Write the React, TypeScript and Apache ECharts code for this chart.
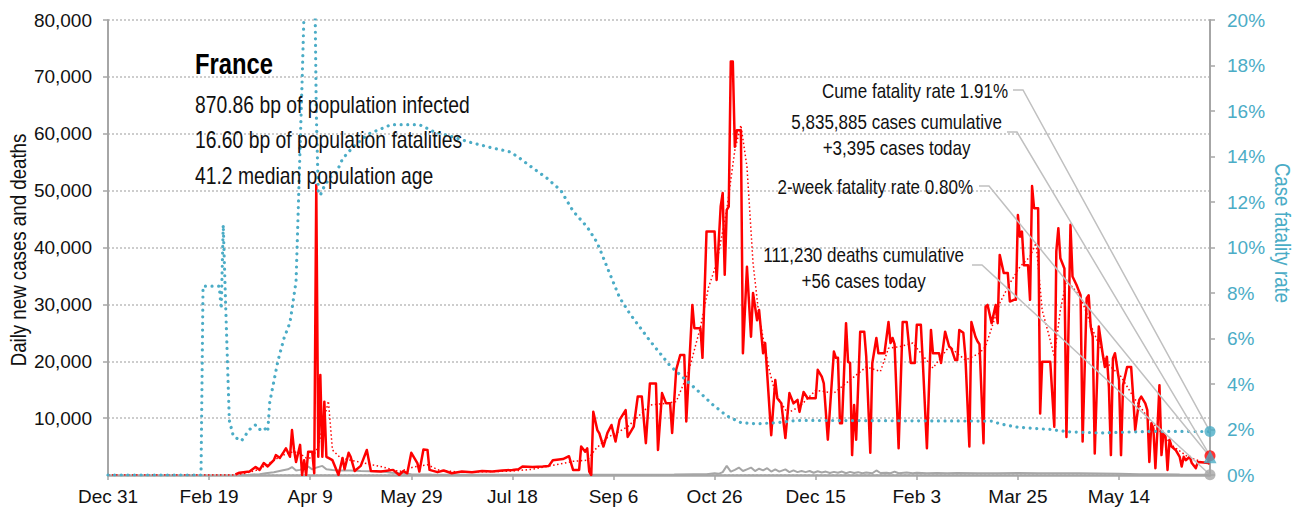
import React, { useEffect, useRef } from "react";
import * as echarts from "echarts";

// x values are days since 2019-12-31 (day 0 = Dec 31, 2019)
const FONT = "'Liberation Sans', Arial, sans-serif";
const BLUE = "#4BACC6";
const RED = "#FF0000";
const GRAY = "#A6A6A6";

const LAST_DAY = 545;
const X_TICK_INTERVAL = 50;
const Y_LEFT_MAX = 80000;
const Y_RIGHT_MAX = 20;

const CASES: [number, number][] = [
  [63, 100], [65, 400], [70, 600], [73, 1400], [75, 900], [77, 2100], [79, 1500], [82, 2600], [83, 3500],
  [85, 3000], [87, 4100], [88, 4700], [90, 3200], [91, 7900], [92, 4400], [93, 2300], [95, 5300], [96, 0],
  [97, 2600], [98, 0], [99, 4100], [101, 4100], [102, 300], [103, 51000], [104, 3200], [105, 17600],
  [106, 3200], [107, 12900], [108, 3200], [109, 3000], [111, 2600], [114, 0], [116, 3000], [117, 1000],
  [119, 3900], [120, 3200], [122, 700], [125, 1600], [128, 4400], [130, 700], [135, 600], [141, 900],
  [144, 0], [146, 700], [148, 300], [150, 3900], [153, 2100], [154, 600], [156, 4500], [158, 4400],
  [159, 900], [163, 500], [166, 800], [170, 300], [175, 600], [180, 500], [185, 700], [190, 600],
  [195, 800], [200, 900], [203, 1000], [205, 1500], [210, 1400], [215, 1500], [218, 1600], [220, 2600],
  [225, 2800], [228, 3300], [230, 900], [233, 900], [234, 5000], [236, 4100], [237, 4700], [238, 600],
  [239, 0], [240, 11100], [242, 7900], [243, 7300], [245, 5000], [247, 7400], [249, 8800], [251, 5900],
  [253, 9700], [256, 11400], [257, 6700], [260, 8500], [262, 13800], [264, 13800], [266, 5600],
  [268, 16100], [271, 16100], [272, 4400], [274, 14400], [276, 12600], [278, 12600], [279, 7400],
  [281, 18500], [283, 21100], [285, 21100], [286, 9400], [289, 29900], [290, 25800], [293, 25800],
  [294, 20600], [296, 42800], [300, 42800], [301, 34300], [303, 47200], [304, 49600], [305, 35200],
  [306, 46600], [307, 47200], [308, 72700], [309, 72700], [310, 57700], [311, 60600], [313, 60600],
  [314, 21400], [316, 36600], [318, 24300], [319, 32000], [321, 27200], [322, 29000], [324, 21400],
  [325, 23200], [328, 7000], [330, 16700], [331, 13500], [333, 12600], [335, 6500], [337, 14400],
  [339, 12600], [341, 13200], [342, 11100], [344, 14600], [346, 13500], [350, 13500], [351, 18500],
  [353, 17300], [354, 16100], [356, 6200], [359, 21700], [360, 20600], [361, 20600], [362, 9100],
  [363, 9100], [365, 26700], [366, 19900], [367, 19700], [368, 3500], [369, 12300], [370, 6200],
  [372, 25200], [374, 25200], [375, 20800], [377, 3900], [378, 19700], [380, 24100], [381, 21400],
  [384, 21400], [386, 26900], [387, 23200], [388, 24100], [389, 23000], [391, 4700], [393, 26900],
  [395, 26900], [397, 19700], [399, 19700], [400, 26400], [402, 26400], [403, 19700], [405, 4700],
  [407, 25500], [408, 21400], [411, 21400], [412, 19700], [414, 25200], [416, 22600], [417, 22300],
  [419, 20200], [420, 20200], [421, 25500], [423, 25000], [424, 21000], [426, 5000], [427, 26900],
  [429, 24300], [430, 23500], [431, 23000], [433, 5600], [434, 29600], [435, 29900], [437, 26700],
  [439, 29900], [440, 26700], [441, 38700], [443, 35500], [445, 35500], [446, 30500], [448, 30800],
  [449, 30800], [450, 45700], [451, 41900], [452, 42800], [453, 36900], [455, 36900], [456, 30800],
  [457, 50800], [458, 46900], [460, 46900], [461, 10800], [462, 19900], [466, 19900], [468, 8500],
  [469, 39300], [470, 43400], [471, 38100], [473, 36300], [474, 6700], [476, 44000], [477, 34900],
  [479, 33400], [480, 32500], [481, 31600], [482, 5900], [484, 31100], [485, 31600], [486, 26100],
  [487, 24300], [488, 3800], [490, 26100], [492, 21100], [493, 19000], [494, 20800], [495, 15500],
  [496, 3500], [497, 20500], [498, 21400], [500, 16700], [501, 3500], [502, 15800], [504, 19000],
  [506, 19000], [507, 13800], [508, 7900], [510, 13200], [511, 13800], [513, 12600], [514, 11400],
  [515, 2300], [516, 9100], [517, 8200], [518, 1200], [519, 8000], [520, 15800], [521, 3500],
  [522, 7400], [523, 6700], [524, 900], [525, 6200], [526, 5000], [528, 4400], [530, 3200], [531, 1500],
  [532, 3200], [533, 2600], [535, 3200], [536, 2100], [538, 1200], [539, 2300], [542, 2200], [544, 2100],
  [545, 3395],
];

const CASES_AVG: [number, number][] = [
  [0, 0], [62, 0], [68, 300], [74, 900], [78, 1700], [82, 2600], [86, 3400], [90, 4000], [94, 4000],
  [98, 3000], [101, 3000], [104, 5000], [107, 10000], [109, 13000], [111, 4400], [115, 3000],
  [120, 2600], [128, 2000], [136, 1400], [144, 600], [151, 1400], [158, 1800], [164, 800], [175, 500],
  [190, 600], [200, 700], [210, 1000], [220, 1700], [230, 2400], [237, 2600], [241, 4500], [247, 6600],
  [252, 7500], [257, 8500], [262, 10200], [268, 12300], [276, 12600], [281, 12900], [287, 18000],
  [293, 26000], [297, 33000], [301, 37200], [306, 46600], [310, 57100], [313, 61500], [316, 54200],
  [319, 37300], [322, 27800], [327, 18500], [330, 14400], [336, 10900], [342, 12000], [350, 14900],
  [359, 14400], [367, 16700], [375, 19000], [382, 18200], [386, 22300], [392, 22600], [398, 23200],
  [408, 18800], [416, 22600], [424, 20200], [431, 21400], [434, 22600], [441, 30200], [446, 33700],
  [451, 36600], [456, 38400], [459, 40800], [462, 29000], [466, 23700], [468, 20800], [471, 29000],
  [474, 34300], [481, 31300], [487, 25500], [494, 19700], [501, 17300], [507, 13800], [514, 10200],
  [521, 7400], [527, 5000], [534, 3200], [541, 2300], [545, 1900],
];

const DEATHS: [number, number][] = [
  [65, 0], [70, 50], [75, 150], [78, 300], [82, 500], [86, 800], [89, 1000], [91, 1400], [93, 800],
  [95, 900], [97, 1200], [99, 1500], [101, 1000], [103, 1300], [106, 1600], [108, 1000], [111, 900],
  [115, 800], [120, 800], [125, 700], [130, 650], [136, 600], [140, 400], [145, 300], [150, 150],
  [160, 80], [180, 30], [220, 30], [260, 60], [280, 100], [290, 150], [296, 150], [300, 300], [302, 200],
  [304, 500], [306, 1600], [308, 600], [310, 900], [312, 1300], [314, 700], [316, 1000], [318, 1300],
  [320, 700], [322, 1100], [324, 800], [326, 1200], [328, 600], [330, 1000], [332, 600], [335, 1000],
  [337, 500], [339, 800], [341, 500], [343, 700], [345, 500], [347, 700], [349, 400], [351, 650],
  [353, 450], [355, 600], [357, 350], [359, 550], [361, 400], [363, 600], [365, 300], [367, 550],
  [369, 350], [371, 500], [373, 300], [375, 450], [378, 300], [380, 800], [382, 350], [385, 400],
  [387, 300], [389, 600], [391, 300], [395, 450], [398, 300], [400, 400], [405, 300], [410, 350],
  [415, 300], [420, 350], [430, 300], [440, 300], [450, 350], [460, 300], [470, 300], [480, 300],
  [490, 250], [500, 200], [510, 150], [520, 120], [530, 80], [540, 60], [545, 56],
];

// case fatality rate, percent (right axis)
const FATALITY_RATE: [number, number][] = [
  [0, 0], [46, 0], [47, 8.3], [55, 8.3], [56, 7.3], [57, 11.0], [58, 8.0], [60, 2.4], [62, 1.7],
  [66, 1.5], [70, 2.0], [73, 2.2], [75, 2.0], [77, 2.1], [79, 1.9], [80, 3.2], [82, 4.1], [84, 5.0],
  [87, 6.0], [90, 6.7], [91, 7.3], [93, 8.5], [94, 11.4], [95, 14.4], [96, 17.3], [97, 20.5], [98, 24],
  [102, 24], [103, 16], [104, 12.4], [105, 12.3], [107, 12.7], [110, 13.1], [113, 13.3], [116, 13.9],
  [119, 14.2], [121, 14.4], [129, 15.0], [136, 15.25], [140, 15.4], [154, 15.4], [161, 15.1],
  [169, 14.9], [180, 14.6], [189, 14.4], [199, 14.2], [204, 13.9], [210, 13.5], [217, 13.05],
  [224, 12.5], [230, 11.6], [237, 10.9], [242, 10.2], [247, 9.1], [253, 7.8], [258, 7.1], [263, 6.5],
  [268, 5.9], [273, 5.35], [278, 4.8], [283, 4.4], [288, 4.0], [293, 3.6], [299, 3.1], [306, 2.6],
  [313, 2.3], [321, 2.25], [331, 2.3], [341, 2.4], [437, 2.37], [441, 2.25], [450, 2.1], [466, 2.0],
  [475, 1.9], [491, 1.85], [516, 1.92], [545, 1.91],
];

const CUME_FATALITY = 1.91;
const TWO_WEEK_FATALITY = 0.8;
const CASES_TODAY = 3395;
const DEATHS_TODAY = 56;
const CASES_CUMULATIVE = "5,835,885";
const DEATHS_CUMULATIVE = "111,230";

const INFO_LINES = [
  "870.86 bp of population infected",
  "16.60 bp of population fatalities",
  "41.2 median population age",
];

const MONTHS = ["Jan", "Feb", "Mar", "Apr", "May", "Jun", "Jul", "Aug", "Sep", "Oct", "Nov", "Dec"];
const BASE = Date.UTC(2019, 11, 31);
const dayLabel = (v: number) => {
  const d = new Date(BASE + Math.round(v) * 86400000);
  return MONTHS[d.getUTCMonth()] + " " + d.getUTCDate();
};
const fmt = (n: number) => n.toLocaleString("en-US");

let measureCtx: CanvasRenderingContext2D | null = null;
function textWidth(text: string, font: string) {
  if (!measureCtx) measureCtx = document.createElement("canvas").getContext("2d");
  measureCtx!.font = font;
  return measureCtx!.measureText(text).width;
}

export default function App() {
  const ref = useRef<HTMLDivElement>(null);
  useEffect(() => {
    const chart = echarts.init(ref.current!, null, { renderer: "svg" });
    const labelFont = 19;
    chart.setOption({
      animation: false,
      grid: { left: 108, right: 89, top: 20, bottom: 43, containLabel: false },
      xAxis: {
        type: "value",
        min: 0,
        max: LAST_DAY,
        interval: X_TICK_INTERVAL,
        axisLine: { show: true, lineStyle: { color: GRAY, width: 2.5 } },
        axisTick: { show: true, inside: false, length: 5, lineStyle: { color: GRAY, width: 1.5 } },
        axisLabel: {
          formatter: dayLabel,
          showMaxLabel: false,
          color: "#111",
          fontFamily: FONT,
          fontSize: labelFont,
          margin: 12,
        },
        splitLine: { show: false },
      },
      yAxis: [
        {
          type: "value",
          min: 0,
          max: Y_LEFT_MAX,
          interval: 10000,
          axisLine: { show: true, lineStyle: { color: GRAY, width: 2 } },
          axisTick: { show: true, inside: false, length: 5, lineStyle: { color: GRAY, width: 1.5 } },
          axisLabel: {
            showMinLabel: false,
            formatter: (v: number) => fmt(v),
            color: "#111",
            fontFamily: FONT,
            fontSize: labelFont,
            margin: 16,
          },
          splitLine: { show: true, lineStyle: { color: "#BDBDBD", width: 1.5, type: [2, 2] } },
        },
        {
          type: "value",
          min: 0,
          max: Y_RIGHT_MAX,
          interval: 2,
          position: "right",
          axisLine: { show: true, lineStyle: { color: GRAY, width: 2 } },
          axisTick: { show: true, inside: false, length: 5, lineStyle: { color: GRAY, width: 1.5 } },
          axisLabel: {
            formatter: "{value}%",
            color: BLUE,
            fontFamily: FONT,
            fontSize: labelFont,
            margin: 17,
          },
          splitLine: { show: false },
        },
      ],
      series: [
        {
          name: "Deaths",
          type: "line",
          data: DEATHS,
          yAxisIndex: 0,
          symbol: "none",
          lineStyle: { color: GRAY, width: 2 },
          z: 2,
        },
        {
          name: "Cases 7-day average",
          type: "line",
          data: CASES_AVG,
          yAxisIndex: 0,
          symbol: "none",
          lineStyle: { color: RED, width: 1.5, type: [1.5, 2.5] },
          z: 3,
        },
        {
          name: "Daily cases",
          type: "line",
          data: CASES,
          yAxisIndex: 0,
          symbol: "none",
          lineStyle: { color: RED, width: 2.5, join: "round" },
          z: 4,
        },
        {
          name: "Case fatality rate",
          type: "line",
          data: FATALITY_RATE,
          yAxisIndex: 1,
          symbol: "none",
          lineStyle: { color: BLUE, width: 3.2, type: [0.01, 6.6], cap: "round" },
          z: 5,
        },
        {
          name: "mk-cume",
          type: "scatter",
          yAxisIndex: 1,
          data: [[LAST_DAY, CUME_FATALITY]],
          symbol: "circle",
          symbolSize: 11,
          itemStyle: { color: BLUE },
          z: 20,
        },
        {
          name: "mk-cases",
          type: "scatter",
          yAxisIndex: 0,
          data: [[LAST_DAY, CASES_TODAY]],
          symbol: "circle",
          symbolSize: 11,
          itemStyle: { color: RED },
          z: 20,
        },
        {
          name: "mk-2wk",
          type: "scatter",
          yAxisIndex: 1,
          data: [[LAST_DAY, TWO_WEEK_FATALITY]],
          symbol: "triangle",
          symbolSize: 13,
          itemStyle: { color: BLUE },
          z: 21,
        },
        {
          name: "mk-deaths",
          type: "scatter",
          yAxisIndex: 0,
          data: [[LAST_DAY, DEATHS_TODAY]],
          symbol: "circle",
          symbolSize: 11,
          itemStyle: { color: GRAY },
          z: 20,
        },
      ],
    });

    // condensed look: real font drawn with a horizontal squeeze
    const ANN_SIZE = 21, ANN_SX = 0.81;
    const INFO_SIZE = 23, INFO_SX = 0.84;
    const annFont = `${ANN_SIZE}px ${FONT}`;
    const infoFont = `${INFO_SIZE}px ${FONT}`;
    const txt = (text: string, x: number, y: number, align: string, font: string, sx: number, fill = "#111", extra: any = {}) => ({
      type: "text",
      x,
      y,
      z: 30,
      scaleX: sx,
      ...extra,
      style: { text, font, fill, textAlign: align, textVerticalAlign: "middle" },
    });

    const pCume = chart.convertToPixel({ seriesIndex: 4 }, [LAST_DAY, CUME_FATALITY]) as number[];
    const pCases = chart.convertToPixel({ seriesIndex: 5 }, [LAST_DAY, CASES_TODAY]) as number[];
    const p2wk = chart.convertToPixel({ seriesIndex: 6 }, [LAST_DAY, TWO_WEEK_FATALITY]) as number[];
    const pDeaths = chart.convertToPixel({ seriesIndex: 7 }, [LAST_DAY, DEATHS_TODAY]) as number[];

    const leader = (x0: number, y0: number, p: number[]) => ({
      type: "polyline",
      z: 10,
      silent: true,
      shape: { points: [[x0, y0], [x0 + 10, y0], [p[0], p[1]]] },
      style: { stroke: "#C0C0C0", lineWidth: 1.5, fill: null },
    });

    const casesLine1 = `${CASES_CUMULATIVE} cases cumulative`;
    const deathsLine1 = `${DEATHS_CUMULATIVE} deaths cumulative`;
    const wCases = textWidth(casesLine1, annFont) * ANN_SX;
    const wDeaths = textWidth(deathsLine1, annFont) * ANN_SX;

    const graphics: any[] = [
      txt("France", 195, 64, "left", `bold 29px ${FONT}`, 0.82, "#000"),
      txt(INFO_LINES[0], 195, 105, "left", infoFont, INFO_SX),
      txt(INFO_LINES[1], 195, 140, "left", infoFont, INFO_SX),
      txt(INFO_LINES[2], 195, 176, "left", infoFont, INFO_SX),
      txt(`Cume fatality rate ${CUME_FATALITY.toFixed(2)}%`, 1008, 91, "right", annFont, ANN_SX),
      txt(casesLine1, 1002, 122, "right", annFont, ANN_SX),
      txt(`+${fmt(CASES_TODAY)} cases today`, 1002 - wCases / 2, 148, "center", annFont, ANN_SX),
      txt(`2-week fatality rate ${TWO_WEEK_FATALITY.toFixed(2)}%`, 973, 187, "right", annFont, ANN_SX),
      txt(deathsLine1, 964, 255, "right", annFont, ANN_SX),
      txt(`+${DEATHS_TODAY} cases today`, 964 - wDeaths / 2, 281, "center", annFont, ANN_SX),
      leader(1013, 90, pCume),
      leader(1007, 132, pCases),
      leader(979, 186, p2wk),
      leader(972, 265, pDeaths),
      txt("Daily new cases and deaths", 18, 250, "center", `22px ${FONT}`, 0.85, "#111", { rotation: Math.PI / 2 }),
      txt("Case fatality rate", 1283, 233, "center", `22px ${FONT}`, 0.85, BLUE, { rotation: -Math.PI / 2 }),
    ];
    chart.setOption({ graphic: graphics });

    return () => chart.dispose();
  }, []);
  return <div ref={ref} style={{ position: "absolute", left: 0, top: 0, width: 1299, height: 518 }} />;
}
